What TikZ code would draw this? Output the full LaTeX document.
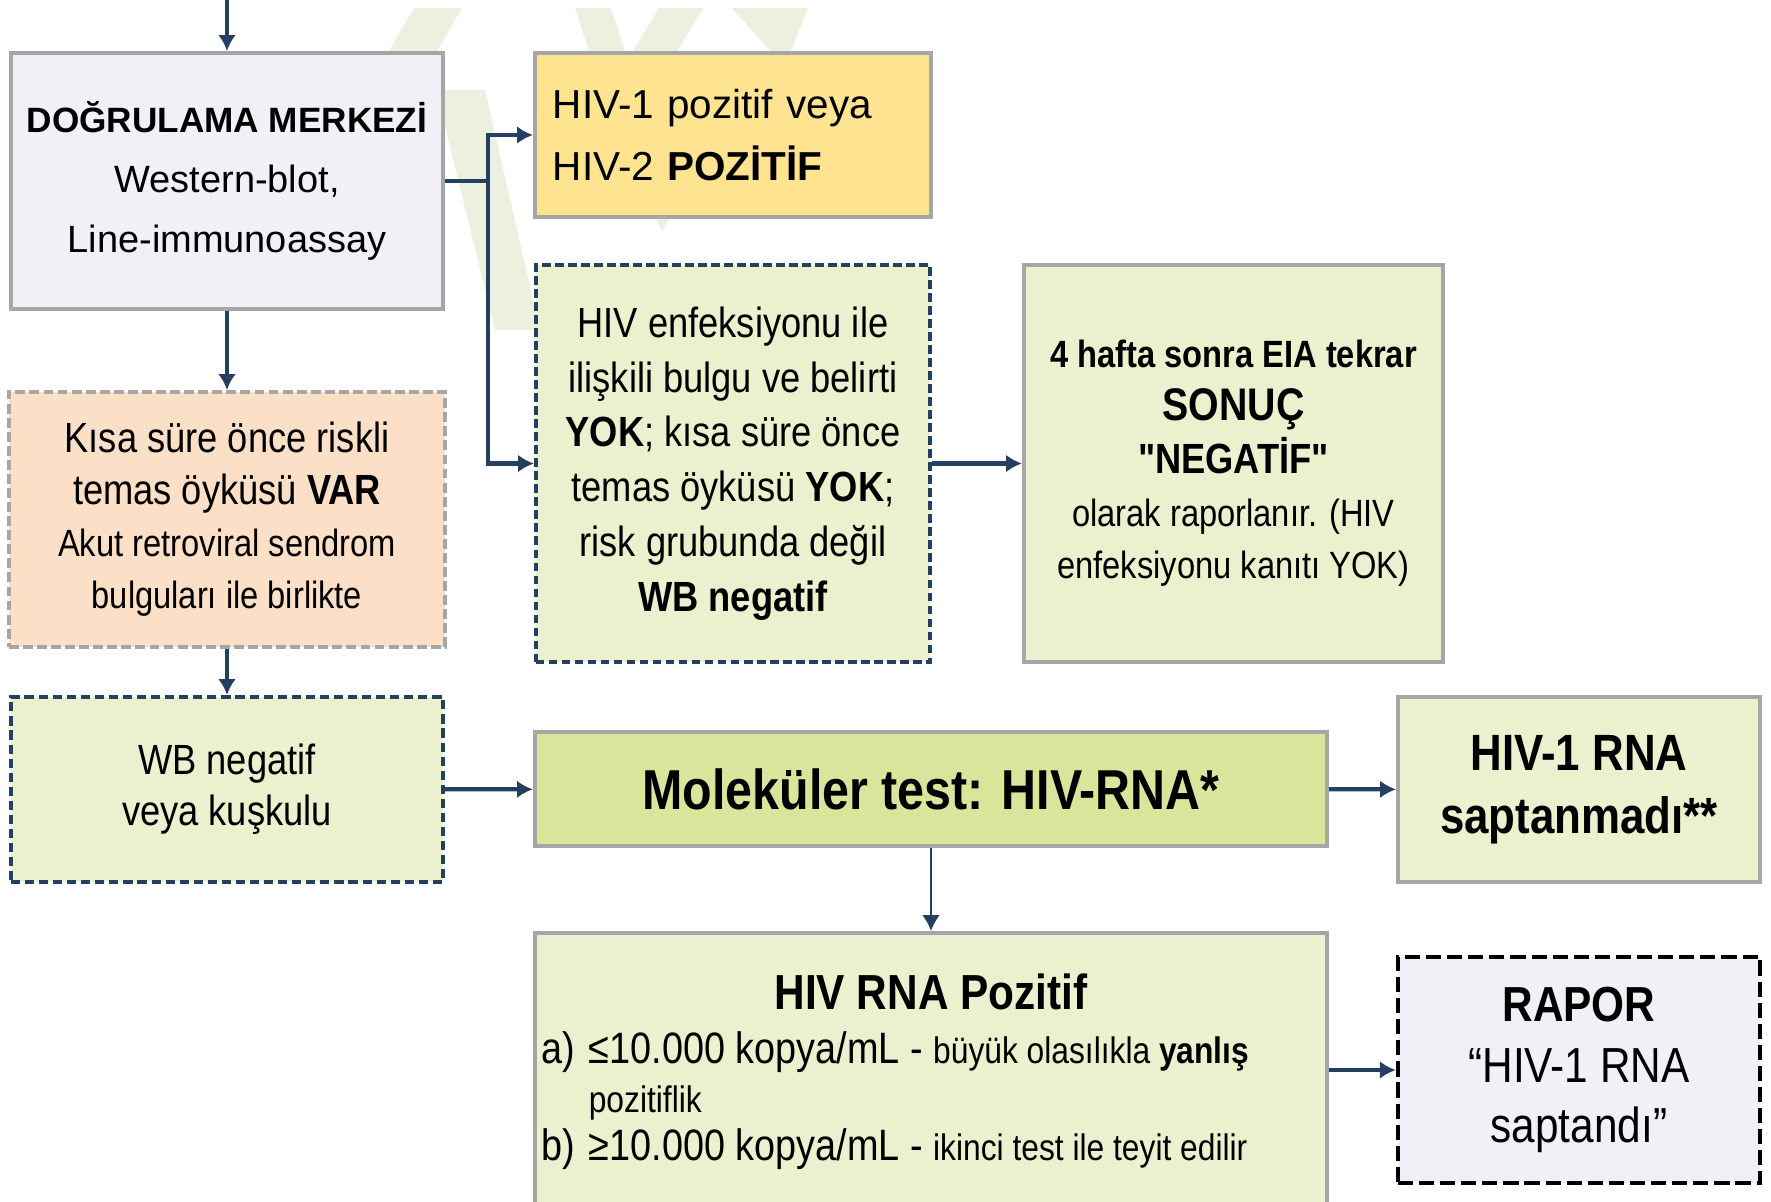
\documentclass[tikz,border=0pt]{standalone}
\usepackage{fontspec}
\setmainfont{Liberation Sans}
\newfontfamily\narrowfont[FakeStretch=0.86]{Liberation Sans}
\usetikzlibrary{arrows.meta}
\definecolor{navy}{HTML}{243F60}
\definecolor{framegray}{HTML}{A6A6A6}
\definecolor{lilac}{HTML}{F2F0F6}
\definecolor{lemon}{HTML}{FEE391}
\definecolor{sage}{HTML}{EBF1CE}
\definecolor{olivebox}{HTML}{D8E59A}
\definecolor{peach}{HTML}{FBE0C7}
\definecolor{wmgreen}{HTML}{EBF1DE}

\begin{document}
\begin{tikzpicture}[x=0.01cm,y=-0.01cm]
	\tikzstyle{box} = [rectangle,draw=framegray,line width=1.1pt,inner sep=2pt,align=center]
	\tikzstyle{dashbox} = [box,draw=navy,dash pattern=on 2.4pt off 1.3pt]
	\tikzstyle{arr} = [navy,line width=1.2pt,-{Latex[length=4.5pt,width=5pt]}]
	\useasboundingbox (0,0) rectangle (1771,1202);
	% watermark
	\fill[wmgreen] (414,8) -- (462,8) -- (420,80) -- (372,80) -- cycle;
	\fill[wmgreen] (436,90) -- (485,90) -- (540,330) -- (495,330) -- cycle;
	\fill[wmgreen] (575,8) -- (611,8) -- (628,60) -- (592,60) -- cycle;
	\fill[wmgreen] (659,8) -- (703,8) -- (672,60) -- (628,60) -- cycle;
	\fill[wmgreen] (732,8) -- (808,8) -- (789,55) -- (774,55) -- cycle;
	\fill[wmgreen] (655,217) -- (670,217) -- (662,231) -- cycle;
	% left column
	\node[box,fill=lilac,minimum width=4.32cm,minimum height=2.56cm,font=\fontsize{10.8}{17}\selectfont] (confirm) at (227,181)
		{{\bfseries\fontsize{10}{17}\selectfont DOĞRULAMA MERKEZİ}\\ Western-blot,\\ Line-immunoassay};
	\node[box,dash pattern=on 2.8pt off 1.2pt,fill=peach,minimum width=4.36cm,minimum height=2.55cm,font=\narrowfont\fontsize{12}{14.8}\selectfont] (risk) at (227,519.5)
		{Kısa süre önce riskli\\ temas öyküsü \textbf{VAR}\\ {\fontsize{10.8}{14.8}\selectfont Akut retroviral sendrom}\\ {\fontsize{10.8}{14.8}\selectfont bulguları ile birlikte}};
	\node[dashbox,dash pattern=on 2.6pt off 1.4pt,fill=sage,minimum width=4.32cm,minimum height=1.85cm,font=\narrowfont\fontsize{12}{14.5}\selectfont] (wbneg) at (227,789.5)
		{WB negatif\\ veya kuşkulu};
	% middle column
	\node[box,fill=lemon,minimum width=3.96cm,minimum height=1.64cm,align=left,text width=3.6cm,font=\fontsize{11.5}{17.5}\selectfont] (pos) at (733,135)
		{HIV-1 pozitif veya\\ HIV-2 \textbf{POZİTİF}};
	\node[dashbox,fill=sage,minimum width=3.94cm,minimum height=3.97cm,font=\narrowfont\fontsize{12}{15.6}\selectfont] (noinf) at (733,463.5)
		{HIV enfeksiyonu ile\\ ilişkili bulgu ve belirti\\ \textbf{YOK}; kısa süre önce\\ temas öyküsü \textbf{YOK};\\ risk grubunda değil\\ \textbf{WB negatif}};
	\node[box,fill=olivebox,minimum width=7.92cm,minimum height=1.14cm,font=\narrowfont\bfseries\fontsize{16}{18}\selectfont] (pcr) at (931,789)
		{Moleküler test: HIV-RNA*};
	\node[box,fill=sage,minimum width=7.92cm,minimum height=2.77cm] (rnapos) at (931,1071.5) {};
	\node[font=\narrowfont\bfseries\fontsize{14}{16}\selectfont] (rnatitle) at (931,992) {HIV RNA Pozitif};
	\node[anchor=west,align=left,inner sep=0pt,font=\narrowfont\fontsize{12.5}{13.8}\selectfont] (rnalist) at (541,1101)
		{\makebox[13.4pt][l]{a)}≤10.000 kopya/mL - {\fontsize{10.5}{13.8}\selectfont büyük olasılıkla \textbf{yanlış}}\\
		\hspace*{13.4pt}{\fontsize{10.5}{13.8}\selectfont pozitiflik}\\
		\makebox[13.4pt][l]{b)}≥10.000 kopya/mL - {\fontsize{10.5}{13.8}\selectfont ikinci test ile teyit edilir}};
	% right column
	\node[box,fill=sage,minimum width=4.19cm,minimum height=3.97cm,font=\narrowfont\fontsize{10.8}{15}\selectfont] (retest) at (1233.5,463.5)
		{\textbf{4 hafta sonra EIA tekrar}\\ {\bfseries\fontsize{13}{15}\selectfont SONUÇ}\\ {\bfseries\fontsize{12}{15}\selectfont "NEGATİF"}\\ olarak raporlanır. (HIV\\ enfeksiyonu kanıtı YOK)};
	\node[box,fill=sage,minimum width=3.62cm,minimum height=1.85cm,font=\narrowfont\bfseries\fontsize{14.5}{17.8}\selectfont] (notdet) at (1579,789.5)
		{HIV-1 RNA\\ saptanmadı**};
	\node[box,draw=black,line width=1.2pt,dash pattern=on 4.3pt off 1.7pt,fill=lilac,minimum width=3.62cm,minimum height=2.26cm,font=\narrowfont\fontsize{14}{17.3}\selectfont] (report) at (1579,1070)
		{\textbf{RAPOR}\\ “HIV-1 RNA\\ saptandı”};
	% connections
	\coordinate (top) at (227,0);
	\coordinate (split) at (488,181);
	\draw[arr] (top) -- (confirm);
	\draw[navy,line width=1.2pt] (confirm) -- (split);
	\draw[arr] (split) |- (pos);
	\draw[arr] (split) |- (noinf);
	\foreach \a/\b in {confirm/risk,risk/wbneg,noinf/retest,wbneg/pcr,pcr/notdet}
		\draw[arr] (\a) -- (\b);
	\draw[arr,line width=0.6pt] (pcr) -- (rnapos);
	\draw[arr] (rnapos.east |- report) -- (report);
\end{tikzpicture}
\end{document}
